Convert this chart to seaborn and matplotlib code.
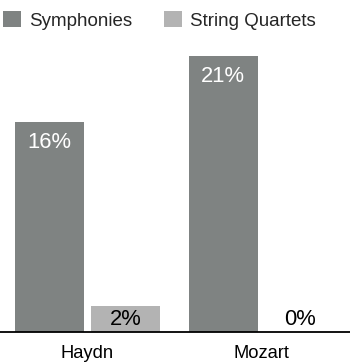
import matplotlib
matplotlib.use("Agg")
import matplotlib.pyplot as plt
from matplotlib.patches import Patch
import seaborn as sns
import pandas as pd

composers = ["Haydn", "Haydn", "Mozart", "Mozart"]
genres = ["Symphonies", "String Quartets", "Symphonies", "String Quartets"]
values = [16, 2, 21, 0]
labels = ["16%", "2%", "21%", "0%"]
genre_order = ["Symphonies", "String Quartets"]
colors = ["#7f8382", "#b3b3b3"]

sns.set_theme(style="white")
plt.rcParams["font.family"] = ["Liberation Sans", "DejaVu Sans"]

df = pd.DataFrame({"composer": composers, "genre": genres, "value": values})

fig = plt.figure(figsize=(3.5, 3.62), dpi=100)
ax = fig.add_axes([0, 30 / 362, 1, 332 / 362])

sns.barplot(data=df, x="composer", y="value", hue="genre", hue_order=genre_order,
            palette=colors, width=0.88, gap=0.1, ax=ax, legend=False,
            edgecolor="none", linewidth=0, saturation=1)

ax.set_xlim(-0.503, 1.509)
ax.set_ylim(0, 25.3)
ax.set_xlabel("")
ax.set_ylabel("")
ax.set_yticks([])
for s in ["top", "left", "right"]:
    ax.spines[s].set_visible(False)
ax.spines["bottom"].set_color("black")
ax.spines["bottom"].set_linewidth(1.3)
ax.tick_params(axis="x", length=0, pad=9.5, labelsize=13.2, colors="black")

# value labels
for cont, gi in zip(ax.containers, range(len(genre_order))):
    for bar in cont:
        x = bar.get_x() + bar.get_width() / 2
        h = bar.get_height()
        idx = [i for i in range(len(values))
               if genres[i] == genre_order[gi] and values[i] == h]
        lab = labels[idx[0]] if idx else f"{h:g}%"
        if h > 5:
            ax.text(x, h - 0.75, lab, ha="center", va="top", color="white", fontsize=15.8)
        else:
            ax.text(x, 1.75, lab, ha="center", va="top", color="black", fontsize=15.8)

handles = [Patch(facecolor=c, edgecolor="none") for c in colors]
fig.legend(handles, genre_order, loc="upper left", bbox_to_anchor=(3 / 350, 1 - 11 / 362),
           ncol=2, frameon=False, fontsize=13.5, handlelength=0.95, handleheight=0.95,
           handletextpad=0.45, columnspacing=1.7, borderpad=0, borderaxespad=0)

fig.savefig("out.png", dpi=100)
